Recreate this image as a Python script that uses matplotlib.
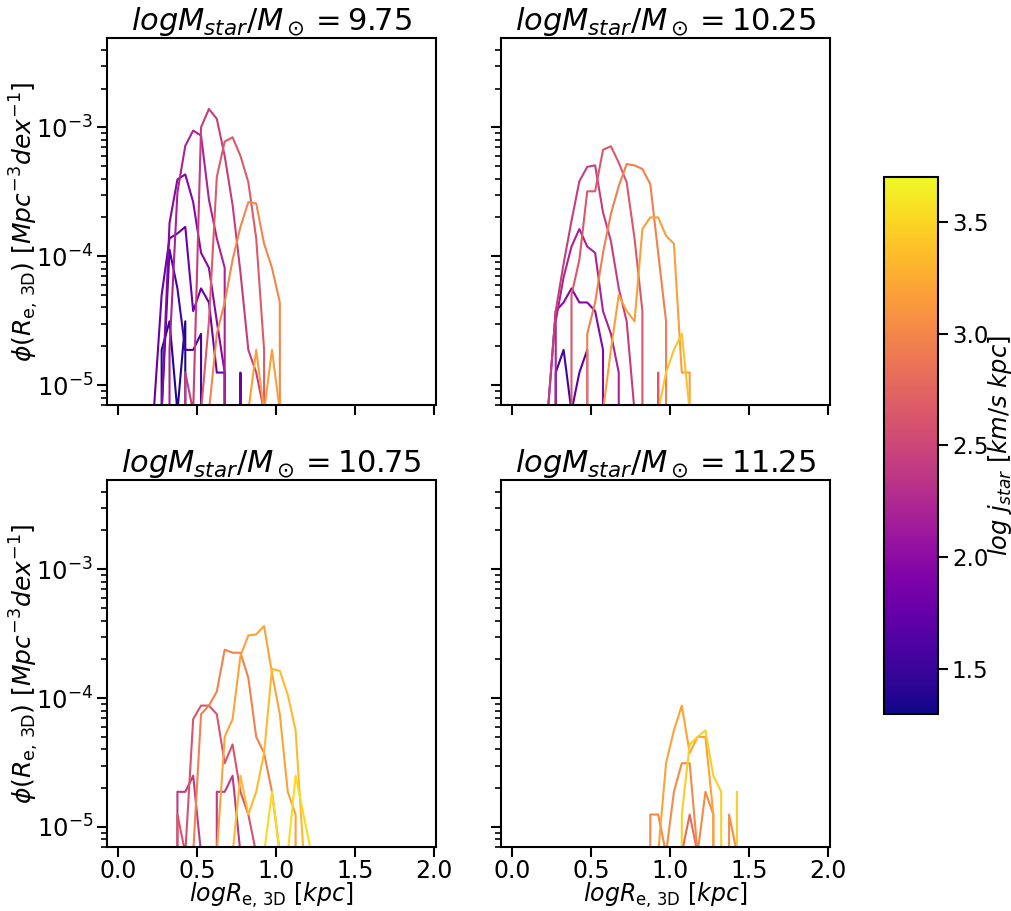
import numpy as np
import matplotlib.pyplot as plt
from matplotlib import cm, colors

# bins in log R_e,3D
bin_width = 0.05
n_bins = 40
logR = np.arange(n_bins) * bin_width + bin_width / 2
# number density of one galaxy in one bin [Mpc^-3 dex^-1]
phi_unit = 6.25e-6

mass_bins = [9.75, 10.25, 10.75, 11.25]

# each curve: (log j_star, index of first bin, galaxy counts per bin)
curves_975 = [
    (1.37, 4, [0, 3, 5, 1, 5, 0]),
    (1.55, 5, [1, 18, 9, 3, 3, 4, 0]),
    (1.78, 4, [1, 8, 22, 24, 27, 6, 9, 7, 2, 2, 0, 2, 0]),
    (1.97, 5, [1, 29, 63, 69, 42, 17, 13, 5, 2, 0]),
    (2.2, 6, [3, 50, 115, 151, 138, 44, 22, 13, 0]),
    (2.43, 7, [0, 2, 1, 160, 222, 186, 96, 40, 12, 3, 2, 1]),
    (2.67, 10, [1, 5, 66, 124, 134, 96, 60, 22, 3, 0]),
    (3.0, 11, [1, 4, 7, 15, 27, 42, 41, 20, 13, 7, 0]),
    (3.17, 16, [1, 3, 1, 3, 1]),
]
curves_1025 = [
    (1.54, 4, [0, 2, 3, 1]),
    (1.7, 7, [1, 2, 3, 0]),
    (1.95, 4, [1, 6, 7, 9, 7, 7, 6, 3, 0]),
    (2.2, 4, [0, 5, 11, 19, 26, 19, 17, 6, 4, 2, 0]),
    (2.43, 4, [1, 6, 14, 30, 61, 79, 81, 35, 21, 9, 5, 1]),
    (2.65, 6, [0, 8, 15, 51, 51, 107, 114, 85, 60, 22, 6, 0, 2, 0]),
    (2.95, 8, [0, 4, 7, 17, 34, 56, 83, 81, 76, 58, 17, 5, 0]),
    (3.17, 11, [1, 3, 8, 6, 5, 26, 32, 32, 23, 20, 2, 2, 0]),
    (3.4, 18, [1, 2, 3, 4, 1]),
]
curves_1075 = [
    (2.38, 6, [0, 3, 3, 4, 1, 0, 3, 3, 4, 1, 0]),
    (2.62, 6, [0, 2, 1, 11, 14, 14, 12, 5, 7, 3, 2, 1]),
    (2.96, 9, [1, 12, 14, 18, 38, 36, 36, 23, 8, 6, 3, 1]),
    (3.2, 12, [1, 8, 11, 34, 49, 50, 58, 25, 12, 3, 2, 0]),
    (3.34, 14, [1, 4, 2, 3, 6, 27, 26, 17, 9, 1]),
    (3.53, 18, [1, 3, 1, 1, 4, 2, 1]),
]
curves_1125 = [
    (2.8, 21, [1, 2, 1]),
    (3.03, 16, [0, 2, 2, 1, 3, 5, 5, 1, 3, 2, 0, 2, 1]),
    (3.2, 18, [1, 5, 9, 14, 6, 8, 8, 2, 0]),
    (3.46, 20, [0, 2, 7, 8, 9, 4, 3, 0, 3, 0]),
]
all_curves = [curves_975, curves_1025, curves_1075, curves_1125]

j_min, j_max = 1.3, 3.7
norm = colors.Normalize(vmin=j_min, vmax=j_max)
cmap = plt.get_cmap('plasma')

fs_tick = 17.5
fs_lab = 18
fig = plt.figure(figsize=(10.12, 9.11), dpi=100)
w, h = 0.325, 0.4025
boxes = [(0.1057, 0.5554), (0.4951, 0.5554), (0.1057, 0.0703), (0.4951, 0.0703)]

for i, (x0, y0) in enumerate(boxes):
    ax = fig.add_axes([x0, y0, w, h])
    for j, k0, counts in all_curves[i]:
        n = np.zeros(n_bins)
        n[k0:k0 + len(counts)] = counts
        ax.plot(logR, n * phi_unit, color=cmap(norm(j)), lw=1.5)
    ax.set_yscale('log')
    ax.set_xlim(-0.072, 2.015)
    ax.set_ylim(7e-6, 4.9e-3)
    ax.set_xticks([0.0, 0.5, 1.0, 1.5, 2.0])
    ax.set_title(r'$logM_{star}/M_\odot=%s$' % mass_bins[i], fontsize=22, pad=5)
    ax.tick_params(which='major', labelsize=fs_tick, length=7, width=1.5, pad=3)
    ax.tick_params(axis='x', which='major', labelsize=17, pad=1.5)
    ax.tick_params(which='minor', length=4, width=1.2)
    for sp in ax.spines.values():
        sp.set_linewidth(1.5)
    if i % 2 == 0:
        ax.set_ylabel(r'$\phi(R_{\rm e,\,3D})\ [Mpc^{-3} dex^{-1}]$', fontsize=fs_lab, labelpad=-4)
    else:
        ax.tick_params(labelleft=False)
    if i < 2:
        ax.tick_params(labelbottom=False)
    else:
        ax.set_xlabel(r'$logR_{\rm e,\,3D}\ [kpc]$', fontsize=17, labelpad=-1)

cax = fig.add_axes([0.8735, 0.2163, 0.0534, 0.5895])
sm = cm.ScalarMappable(norm=norm, cmap=cmap)
cb = fig.colorbar(sm, cax=cax)
cb.set_ticks([1.5, 2.0, 2.5, 3.0, 3.5])
cb.ax.tick_params(labelsize=16.5, length=7, width=1.5, pad=3)
cb.outline.set_linewidth(1.5)
cb.set_label(r'$log\ j_{star}\ [km/s\ kpc]$', fontsize=17.5, labelpad=-2)

plt.savefig('out.png', dpi=100)
